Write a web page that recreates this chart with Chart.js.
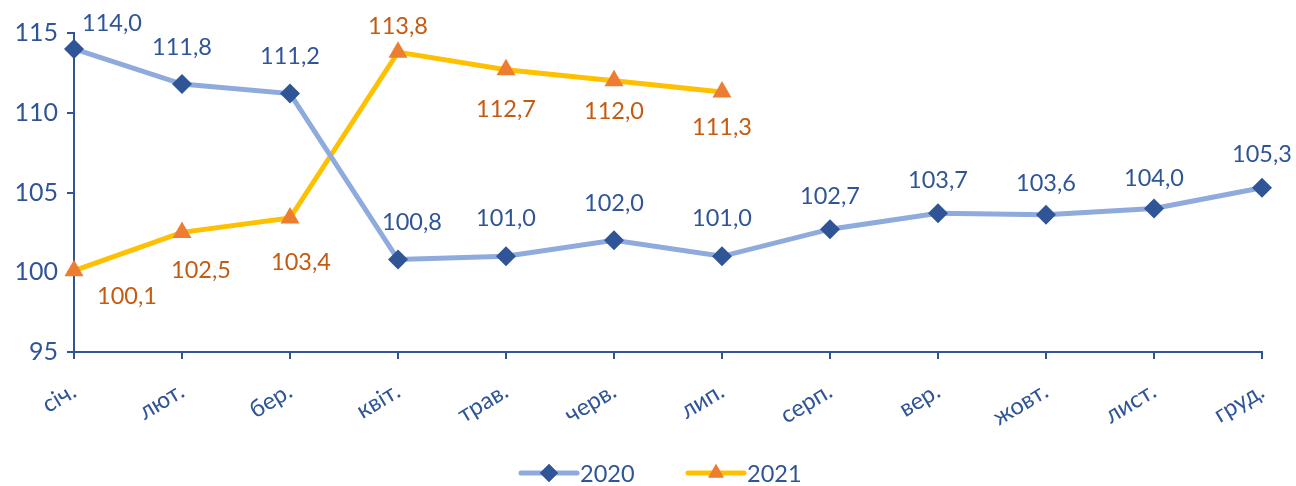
<!DOCTYPE html>
<html>
<head>
<meta charset="utf-8">
<script src="https://cdn.jsdelivr.net/npm/chart.js@4"></script>
<style>
  html, body { margin: 0; padding: 0; background: #fff; }
  #wrap { width: 1296px; height: 486px; }
</style>
</head>
<body>
<div id="wrap"><canvas id="myChart"></canvas></div>
<script>
var months = ['січ.', 'лют.', 'бер.', 'квіт.', 'трав.', 'черв.', 'лип.', 'серп.', 'вер.', 'жовт.', 'лист.', 'груд.'];
var values2020 = [114.0, 111.8, 111.2, 100.8, 101.0, 102.0, 101.0, 102.7, 103.7, 103.6, 104.0, 105.3];
var values2021 = [100.1, 102.5, 103.4, 113.8, 112.7, 112.0, 111.3, null, null, null, null, null];
var yTicks = [95, 100, 105, 110, 115];

var FONT = 'Lato, "Noto Sans", sans-serif';
var axisColor = '#2F5597';

// label offsets from the marker, per series
var labelOffsets = [
    [[38, -26], [0, -37], [0, -37], [14, -37], [0, -38], [0, -37], [0, -38], [0, -33], [0, -33], [0, -31], [0, -30], [0, -33]],
    [[53, 26], [19, 38], [11, 44], [0, -26], [0, 40], [0, 31], [0, 35]]
];
var labelColors = ['#2F5597', '#C55A11'];

var dataLabels = {
    id: 'dataLabels',
    afterDatasetsDraw: function(chart) {
        var c = chart.ctx;
        c.save();
        c.font = '23.5px ' + FONT;
        c.textAlign = 'center';
        c.textBaseline = 'middle';
        chart.data.datasets.forEach(function(ds, i) {
            var meta = chart.getDatasetMeta(i);
            meta.data.forEach(function(pt, j) {
                var v = ds.data[j];
                if (v === null || v === undefined) return;
                var off = labelOffsets[i][j] || [0, -34];
                c.fillStyle = labelColors[i];
                c.fillText(v.toFixed(1).replace('.', ','), pt.x + off[0], pt.y + off[1]);
            });
        });
        c.restore();
    }
};

var bottomLegend = {
    id: 'bottomLegend',
    afterDraw: function(chart) {
        var c = chart.ctx;
        var y = 473;
        var items = [
            { x: 521, text: '2020', line: '#8FAADC', fill: '#2F5597', shape: 'rectRot' },
            { x: 688, text: '2021', line: '#FFC000', fill: '#ED7D31', shape: 'triangle' }
        ];
        c.save();
        items.forEach(function(it) {
            c.strokeStyle = it.line;
            c.lineWidth = 5;
            c.lineCap = 'round';
            c.beginPath();
            c.moveTo(it.x, y);
            c.lineTo(it.x + 56, y);
            c.stroke();
            c.fillStyle = it.fill;
            Chart.helpers.drawPoint(c, { pointStyle: it.shape, radius: 9, rotation: 0, borderWidth: 0 }, it.x + 28, y);
            c.fill();
            c.fillStyle = axisColor;
            c.font = '23.5px ' + FONT;
            c.textAlign = 'left';
            c.textBaseline = 'middle';
            c.fillText(it.text, it.x + 59, y + 1);
        });
        c.restore();
    }
};

var ctx = document.getElementById('myChart').getContext('2d');
var myChart = new Chart(ctx, {
    type: 'line',
    data: {
        labels: months,
        datasets: [{
            label: '2020',
            data: values2020,
            borderColor: '#8FAADC',
            borderWidth: 5,
            pointStyle: 'rectRot',
            pointRadius: 10,
            pointBackgroundColor: '#2F5597',
            pointBorderColor: '#2F5597',
            pointBorderWidth: 0,
            tension: 0
        }, {
            label: '2021',
            data: values2021,
            borderColor: '#FFC000',
            borderWidth: 5,
            pointStyle: 'triangle',
            pointRadius: 11,
            pointBackgroundColor: '#ED7D31',
            pointBorderColor: '#ED7D31',
            pointBorderWidth: 0,
            tension: 0
        }]
    },
    options: {
        responsive: true,
        maintainAspectRatio: false,
        animation: false,
        layout: {
            padding: { top: 33, right: 34, bottom: 54, left: 0 }
        },
        scales: {
            x: {
                offset: false,
                grid: { display: true, drawOnChartArea: false, color: axisColor, tickLength: 7, lineWidth: 2 },
                border: { color: axisColor, width: 2 },
                ticks: {
                    color: axisColor,
                    font: { family: FONT, size: 23.5 },
                    maxRotation: 31,
                    minRotation: 31,
                    padding: 18
                },
                afterFit: function(scale) { scale.height = 80; }
            },
            y: {
                min: 95,
                max: 115,
                afterBuildTicks: function(scale) {
                    scale.ticks = yTicks.map(function(v) { return { value: v }; });
                },
                grid: { display: true, drawOnChartArea: false, color: axisColor, tickLength: 7, lineWidth: 2 },
                border: { color: axisColor, width: 2 },
                ticks: {
                    color: axisColor,
                    font: { family: FONT, size: 25 },
                    padding: 9
                },
                afterFit: function(scale) { scale.width = 74; }
            }
        },
        plugins: {
            legend: { display: false },
            tooltip: { enabled: false }
        }
    },
    plugins: [dataLabels, bottomLegend]
});
</script>
</body>
</html>
